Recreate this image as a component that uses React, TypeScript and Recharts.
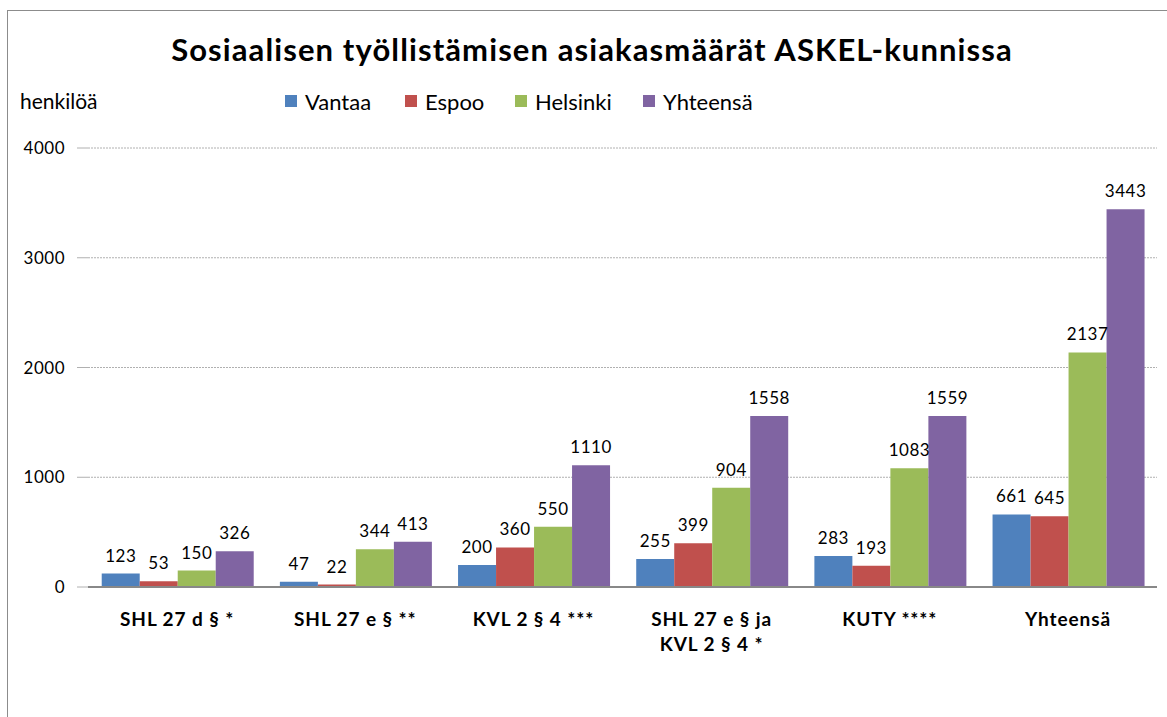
import React from "react";
import { BarChart, Bar, XAxis, YAxis, CartesianGrid, LabelList } from "recharts";

const categories = [
  "SHL 27 d § *",
  "SHL 27 e § **",
  "KVL 2 § 4 ***",
  "SHL 27 e § ja\nKVL 2 § 4 *",
  "KUTY ****",
  "Yhteensä",
];
const vantaa = [123, 47, 200, 255, 283, 661];
const espoo = [53, 22, 360, 399, 193, 645];
const helsinki = [150, 344, 550, 904, 1083, 2137];
const yhteensa = [326, 413, 1110, 1558, 1559, 3443];
const yTicks = [0, 1000, 2000, 3000, 4000];

const series = [
  { key: "Vantaa", values: vantaa, color: "#4F81BD" },
  { key: "Espoo", values: espoo, color: "#C0504D" },
  { key: "Helsinki", values: helsinki, color: "#9BBB59" },
  { key: "Yhteensä", values: yhteensa, color: "#8064A2" },
];

const data = categories.map((c, i) => {
  const row: any = { name: c };
  series.forEach((s) => (row[s.key] = s.values[i]));
  return row;
});

const FONT = "Lato, 'Open Sans', sans-serif";

const CatTick = (props: any) => {
  const { x, y, payload } = props;
  const lines = String(payload.value).split("\n");
  return (
    <g transform={`translate(${x},${y})`}>
      {lines.map((l, i) => (
        <text key={i} x={0} y={23 + i * 25} textAnchor="middle" dominantBaseline="central" fontFamily={FONT} fontWeight={700} fontSize={19} letterSpacing={0.9} fill="#000">
          {l}
        </text>
      ))}
    </g>
  );
};

const legendPos = [285, 405, 515, 643];

export default function App() {
  return (
    <div style={{ position: "absolute", left: 0, top: 0, width: 1167, height: 717, overflow: "hidden", background: "#fff" }}>
      <div style={{ position: "absolute", left: 7, top: 10, width: 1300, height: 900, border: "1px solid #8c8c8c" }} />
      <div style={{ position: "absolute", left: 0, top: 30, width: 1184, textAlign: "center", fontFamily: FONT, fontWeight: 700, fontSize: 31, letterSpacing: 1.1, color: "#000" }}>
        Sosiaalisen työllistämisen asiakasmäärät ASKEL-kunnissa
      </div>
      <div style={{ position: "absolute", left: 20, top: 88, fontFamily: FONT, fontSize: 21, color: "#000" }}>henkilöä</div>
      {series.map((s, i) => (
        <div key={s.key} style={{ position: "absolute", left: legendPos[i], top: 88, display: "flex", alignItems: "center", fontFamily: FONT, fontSize: 22, color: "#000", height: 26 }}>
          <div style={{ width: 12, height: 12, background: s.color, marginRight: 8 }} />
          <span>{s.key}</span>
        </div>
      ))}
      <div style={{ position: "absolute", left: 0, top: 0 }}>
        <BarChart
          width={1167}
          height={717}
          data={data}
          margin={{ top: 148, right: 10, bottom: 100, left: 0 }}
          barCategoryGap="7.7%"
          barGap={0}
        >
          <CartesianGrid horizontal vertical={false} stroke="#b0b0b0" strokeDasharray="2 1" />
          <YAxis
            width={88}
            domain={[0, 4000]}
            ticks={yTicks}
            axisLine={false}
            tickLine={{ stroke: "#b0b0b0" }}
            tickSize={11}
            tickMargin={12}
            tick={{ fontFamily: FONT, fontSize: 17, fill: "#000", letterSpacing: 0.5 }}
          />
          <XAxis
            dataKey="name"
            height={30}
            axisLine={{ stroke: "#888", strokeWidth: 2 }}
            tickLine={false}
            tick={<CatTick />}
            interval={0}
          />
          {series.map((s) => (
            <Bar key={s.key} dataKey={s.key} fill={s.color} isAnimationActive={false}>
              <LabelList dataKey={s.key} position="top" offset={12} style={{ fontFamily: FONT, fontSize: 17, fill: "#000", letterSpacing: 0.5 }} />
            </Bar>
          ))}
        </BarChart>
      </div>
    </div>
  );
}
